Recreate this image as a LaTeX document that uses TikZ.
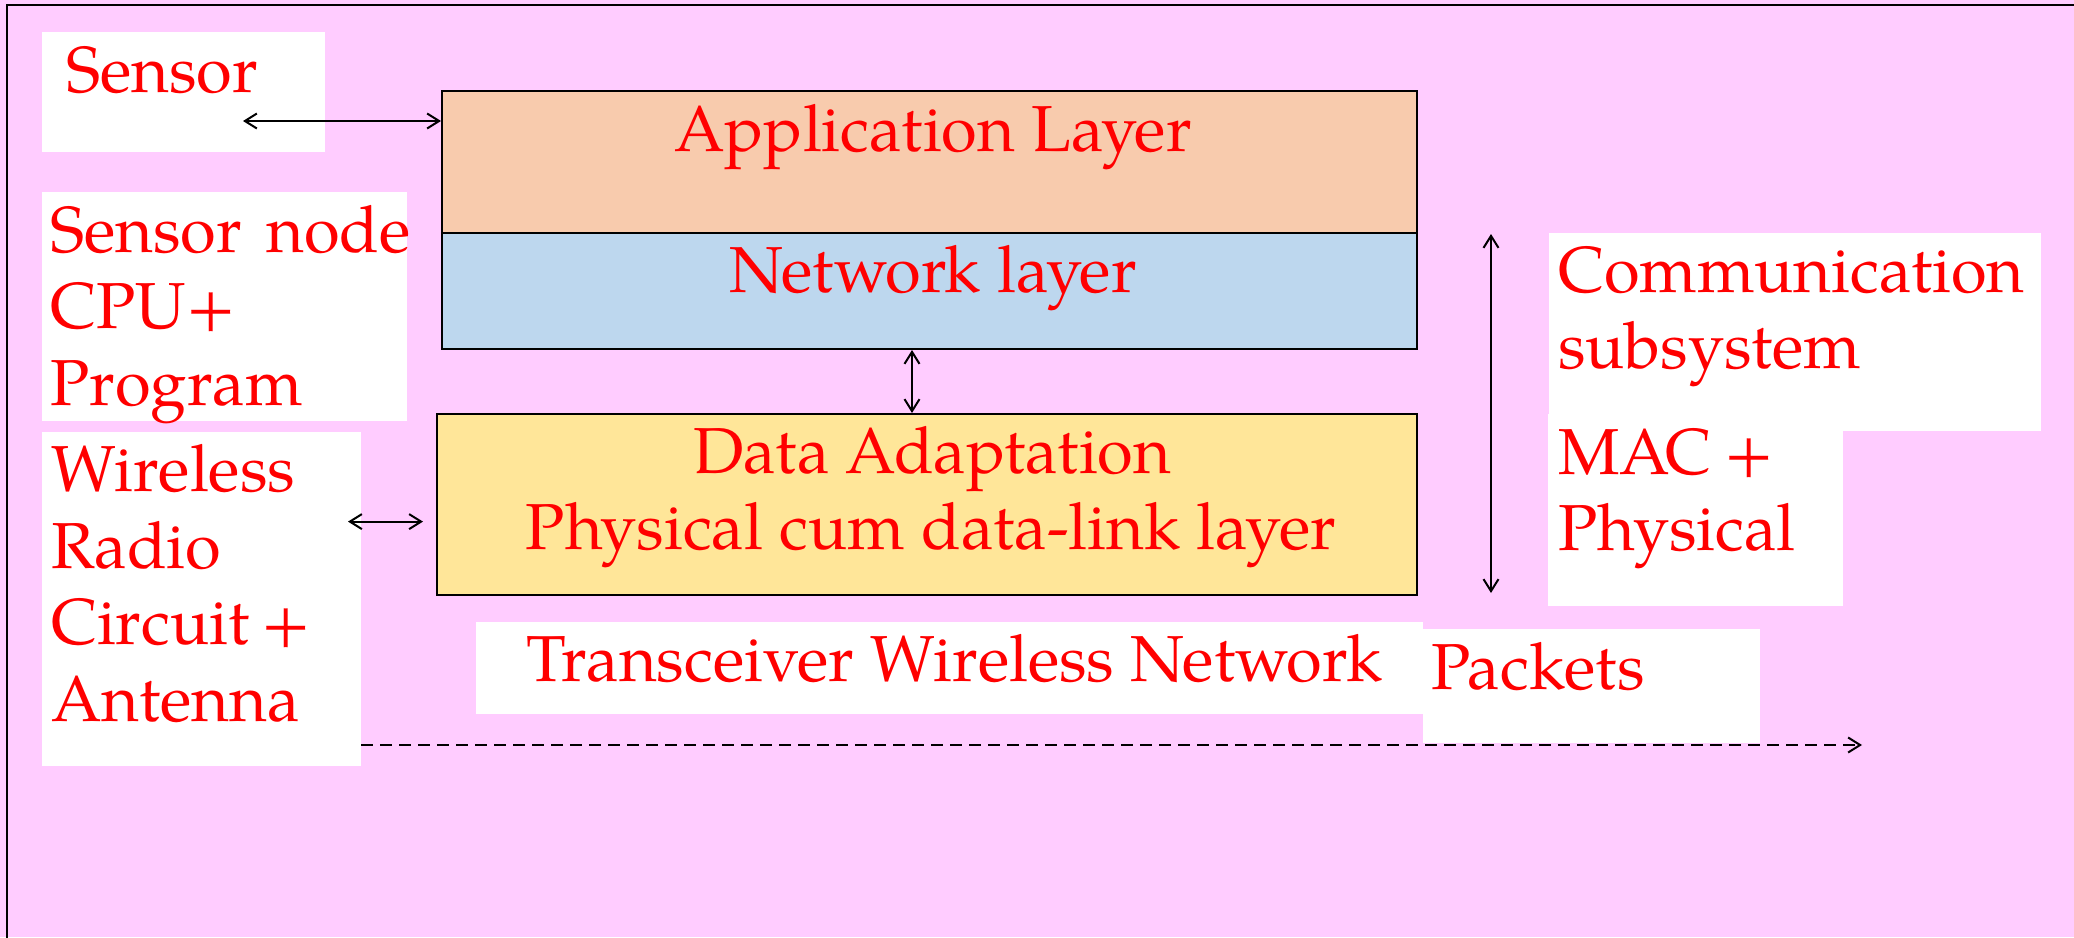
\documentclass[tikz,border=0pt]{standalone}
\usepackage{fontspec}
\setmainfont{texgyrepagella-regular.otf}
\usetikzlibrary{arrows.meta}
\definecolor{bg}{HTML}{FFCCFF}
\definecolor{appc}{HTML}{F8CBAD}
\definecolor{netc}{HTML}{BDD7EE}
\definecolor{adac}{HTML}{FFE699}
\begin{document}
\begin{tikzpicture}[x=1pt,y=-1pt,
  lbl/.style={text=red, font=\fontsize{65}{76}\selectfont, inner sep=0pt, anchor=base west},
  clbl/.style={lbl, anchor=base},
  layerbox/.style={draw=black, line width=2pt, inner sep=0pt},
  wbox/.style={fill=white, draw=none},
  dbl/.style={line width=2pt, {Straight Barb[length=12pt,width=15pt]}-{Straight Barb[length=12pt,width=15pt]}},
  dsh/.style={line width=2pt, dash pattern=on 12pt off 7pt, -{Straight Barb[length=12pt,width=15pt]}}
]
\useasboundingbox (0,0) rectangle (2074,937);
\fill[bg] (0,0) rectangle (2074,937);
\draw[line width=2pt] (2090,5) -- (7,5) -- (7,950);

% white label boxes
\fill[wbox] (42,32) rectangle (325,152);
\fill[wbox] (42,192) rectangle (407,421);
\fill[wbox] (42,431.5) rectangle (361,766);
\fill[wbox] (476,622) rectangle (1423,714);
\fill[wbox] (1423,629) rectangle (1760,743);
\fill[wbox] (1549,232.5) rectangle (2041,431);
\fill[wbox] (1548,414) rectangle (1843,606);

% layer boxes
\node[layerbox, fill=appc, minimum width=975pt, minimum height=141.5pt] (app) at (929.5,161.75) {};
\node[layerbox, fill=netc, minimum width=975pt, minimum height=116.5pt] (net) at (929.5,290.75) {};
\node[layerbox, fill=adac, minimum width=980pt, minimum height=181pt] (ada) at (927,504.5) {};

\node[clbl] (tapp) at (933,151) {Application Layer};
\node[clbl] (tnet) at (933,292) {Network layer};
\node[clbl] (tada1) at (932,473) {Data Adaptation};
\node[clbl] (tada2) at (931,549) {Physical cum data-link layer};

% left labels
\node[lbl] (sensor) at (66,92) {Sensor};
\node[lbl] (sn1) at (50,252) {Sensor\hspace{8pt} node};
\node[lbl] (sn2) at (50,328) {CPU+};
\node[lbl] (sn3) at (50,405) {Program};
\node[lbl] (w1) at (51,491) {Wireless};
\node[lbl] (w2) at (51,568) {Radio};
\node[lbl] (w3) at (51,644) {Circuit\hspace{-4pt} +};
\node[lbl] (w4) at (51,721) {Antenna};
\node[lbl] (trx) at (526,681.5) {Transceiver Wireless Network};
\node[lbl] (pk) at (1431,689) {Packets};
\node[lbl] (c1) at (1558,292) {Communication};
\node[lbl] (c2) at (1558,368) {subsystem};
\node[lbl] (c3) at (1558,474) {MAC\hspace{-4pt} +};
\node[lbl] (c4) at (1558,550) {Physical};

% connectors
\coordinate (sa) at (243,121);
\draw[dbl] (sa) -- (sa -| app.west);
\coordinate (m) at (912,0);
\draw[dbl] (m |- net.south) -- (m |- ada.north);
\coordinate (wa1) at (348,521.6);
\coordinate (wa2) at (423,521.6);
\draw[dbl] (wa1) -- (wa2);
\coordinate (va1) at (1491,234);
\coordinate (va2) at (1491,593);
\draw[dbl] (va1) -- (va2);
\coordinate (d1) at (361,745);
\coordinate (d2) at (1862,745);
\draw[dsh] (d1) -- (d2);
\end{tikzpicture}
\end{document}
